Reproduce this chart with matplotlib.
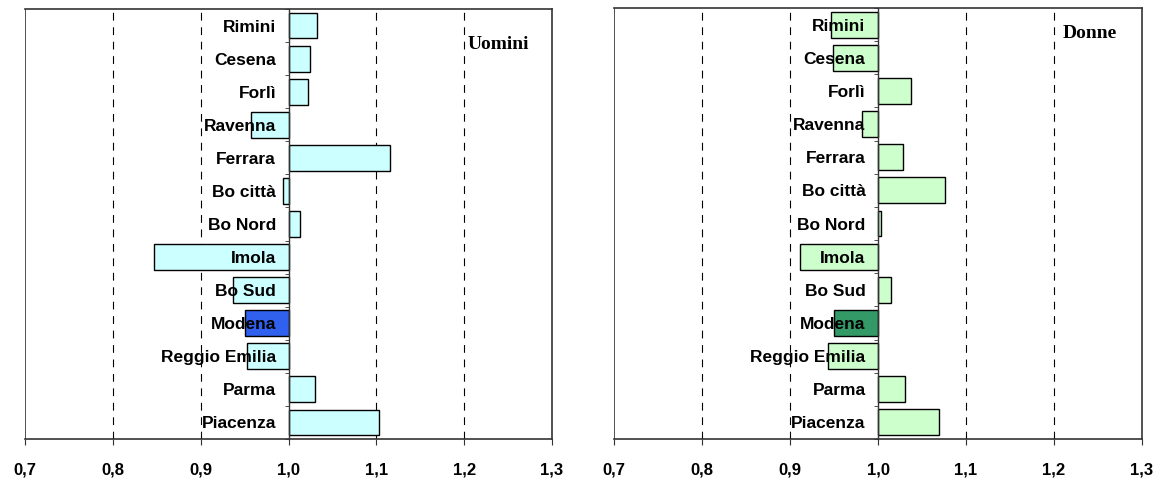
import matplotlib
matplotlib.use("Agg")
import matplotlib.pyplot as plt
from matplotlib.ticker import FixedLocator

categories = ["Rimini", "Cesena", "Forlì", "Ravenna", "Ferrara", "Bo città", "Bo Nord",
              "Imola", "Bo Sud", "Modena", "Reggio Emilia", "Parma", "Piacenza"]
uomini = [1.032, 1.024, 1.022, 0.957, 1.116, 0.994, 1.013,
          0.847, 0.937, 0.950, 0.953, 1.030, 1.103]
donne = [0.947, 0.949, 1.037, 0.982, 1.028, 1.076, 1.003,
         0.911, 1.015, 0.950, 0.943, 1.031, 1.069]
x_ticks = [0.7, 0.8, 0.9, 1.0, 1.1, 1.2, 1.3]
x_tick_labels = ["0,7", "0,8", "0,9", "1,0", "1,1", "1,2", "1,3"]
highlight = "Modena"

fig = plt.figure(figsize=(11.57, 4.8), dpi=100)

def panel(rect, values, base_col, hi_col, title, tx, ty):
    ax = fig.add_axes(rect)
    ax.set_axisbelow(False)
    n = len(categories)
    ypos = [n - 1 - i for i in range(n)]
    widths = [v - 1.0 for v in values]
    colors = [hi_col if c == highlight else base_col for c in categories]
    ax.barh(ypos, widths, left=1.0, height=0.78, color=colors,
            edgecolor="black", linewidth=1.0, zorder=2)
    ax.set_xlim(0.7, 1.3)
    ax.set_ylim(-0.5, n - 0.5)
    for g in [0.8, 0.9, 1.1, 1.2]:
        ax.axvline(g, color="black", linestyle=(0, (7, 6)), linewidth=0.8, zorder=1)
    ax.axvline(0.7, color="#333333", linewidth=1.2, zorder=1)
    # category axis at 1.0
    ax.spines["left"].set_position(("data", 1.0))
    ax.spines["left"].set_color("#333333")
    ax.spines["left"].set_linewidth(1.0)
    for s in ["top", "right", "bottom"]:
        ax.spines[s].set_color("#333333")
        ax.spines[s].set_linewidth(1.2)
    ax.set_yticks(ypos)
    ax.set_yticklabels(categories, fontsize=12.5, fontweight="bold",
                       family=["Liberation Sans", "DejaVu Sans"])
    ax.yaxis.set_minor_locator(FixedLocator([i + 0.5 for i in range(-1, n)]))
    ax.tick_params(axis="y", which="major", length=0, pad=9)
    ax.tick_params(axis="y", which="minor", length=3, direction="out", color="#333333")
    ax.set_xticks(x_ticks)
    ax.set_xticklabels(x_tick_labels, fontsize=12, fontweight="bold",
                       family=["Liberation Sans", "DejaVu Sans"])
    ax.tick_params(axis="x", length=4, direction="out", color="#333333", pad=13)
    ax.text(tx, ty, title, transform=ax.transAxes,
            fontsize=14, fontweight="bold", family=["Liberation Serif", "DejaVu Serif"],
            ha="left", va="center", zorder=6)
    return ax

panel([25 / 1157, 41 / 480, 527 / 1157, 430 / 480], uomini, "#CCFFFF", "#3060EE",
      "Uomini", (468 - 25) / 527, (439 - 45) / 430)
panel([614 / 1157, 41 / 480, 528 / 1157, 431 / 480], donne, "#CCFFCC", "#339966",
      "Donne", (1063 - 614) / 528, (439 - 33) / 431)

fig.savefig("out.png", dpi=100)
